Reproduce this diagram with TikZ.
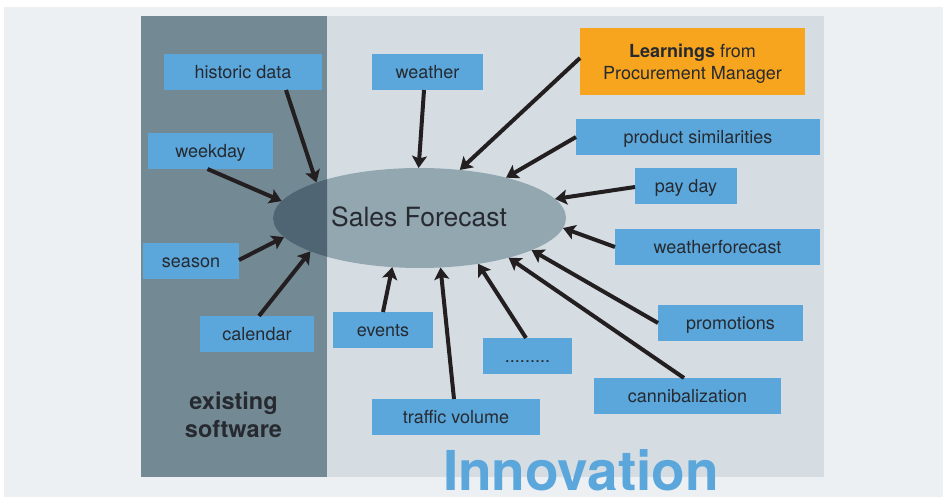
\documentclass[tikz,border=0pt]{standalone}
\usepackage{fontspec}
\setmainfont{TeX Gyre Heros}
\usetikzlibrary{arrows.meta,shapes.geometric}
\definecolor{outerbg}{HTML}{ECF0F3}
\definecolor{darkpanel}{HTML}{738993}
\definecolor{lightpanel}{HTML}{D5DDE3}
\definecolor{ellc}{HTML}{93A7B1}
\definecolor{ellcdark}{HTML}{4F6573}
\definecolor{boxblue}{HTML}{5BA7DB}
\definecolor{boxorange}{HTML}{F7A51F}
\definecolor{txt}{HTML}{262A30}
\definecolor{arrowc}{HTML}{231F20}
\begin{document}
\begin{tikzpicture}[x=1pt,y=-1pt,
  basebox/.style={fill=boxblue, inner sep=0pt, outer sep=0pt, text=txt,
    font=\fontsize{18}{22}\selectfont, minimum height=36pt},
  box/.style={basebox, text height=15pt, text depth=2pt},
  arr/.style={draw=arrowc, line width=4pt,
    -{Stealth[length=12pt,width=15pt,inset=2.5pt]}},
]
\useasboundingbox (0,0) rectangle (943,497);
\fill[outerbg] (4,7) rectangle (943,497);
\fill[darkpanel] (141,16) rectangle (327,477);
\fill[lightpanel] (327,16) rectangle (824,477);

% ellipse
\node[ellipse, fill=ellc, minimum width=293pt, minimum height=100pt,
  inner sep=0pt, outer sep=0pt] (fc) at (419.5,218) {};
\begin{scope}
  \clip (141,16) rectangle (327,477);
  \fill[ellcdark] (419.5,218) ellipse [x radius=146.5pt, y radius=50pt];
\end{scope}
\node[text=txt, font=\fontsize{26.5}{30}\selectfont, inner sep=0pt,
  text height=19pt, text depth=1pt] (fctext) at (419,218) {Sales Forecast};

% boxes
\node[box, minimum width=158pt] (hist) at (243,72) {historic data};
\node[box, minimum width=111pt] (weather) at (427.5,72) {weather};
\node[box, minimum width=125pt] (weekday) at (210.5,151) {weekday};
\node[basebox, fill=boxorange, minimum width=225pt, minimum height=67pt,
  align=center] (learn) at (692.5,61.5)
  {\rule{0pt}{17.5pt}\textbf{Learnings} from\\Procurement Manager};
\node[box, minimum width=244pt] (prod) at (698,137) {product similarities};
\node[box, minimum width=102pt] (pay) at (686,186) {pay day};
\node[box, minimum width=205pt] (wf) at (717.5,247) {weatherforecast};
\node[box, minimum width=96pt] (season) at (191,261) {season};
\node[box, minimum width=114pt] (cal) at (257,334) {calendar};
\node[box, minimum width=100pt] (events) at (383,330) {events};
\node[box, minimum width=168pt] (traffic) at (456,417) {traffic volume};
\node[box, minimum width=89pt] (dots) at (527.5,356) {.........};
\node[box, minimum width=145pt] (promo) at (730.5,323) {promotions};
\node[box, minimum width=187pt] (can) at (687.5,396) {cannibalization};

% arrows
\draw[arr] ([xshift=43pt]hist.south) -- (fc.161.3);
\draw[arr] ([xshift=-3.5pt]weather.south) -- (fc.91.6);
\draw[arr] ([xshift=-3pt]weekday.south) -- (fc.173.6);
\draw[arr] ([yshift=3.5pt]learn.west) -- (fc.50.7);
\draw[arr] (prod.west) -- (fc.25.4);
\draw[arr] ([yshift=-1pt]pay.west) -- (fc.8.3);
\draw[arr] (wf.west) -- (fc.-4.35);
\draw[arr] (promo.west) -- (fc.-16);
\draw[arr] ([xshift=-3.5pt]can.north) -- (fc.-24.5);
\draw[arr] ([xshift=-1.5pt]dots.north) -- (fc.-38.5);
\draw[arr] ([xshift=-2pt]traffic.north) -- (fc.-67);
\draw[arr] (events.north) -- (fc.-119.1);
\draw[arr] ([xshift=2pt]cal.north) -- (fc.197.6);
\draw[arr] ([yshift=1pt]season.east) -- (fc.188.3);

% labels
\node[text=txt, font=\bfseries\fontsize{23.5}{28}\selectfont, align=center,
  anchor=base, inner sep=0pt] (exist) at (233.5,437) {existing\\software};
\node[text=boxblue, font=\bfseries\fontsize{55}{60}\selectfont,
  anchor=base, inner sep=0pt] (innov) at (581,490) {Innovation};
\end{tikzpicture}
\end{document}
